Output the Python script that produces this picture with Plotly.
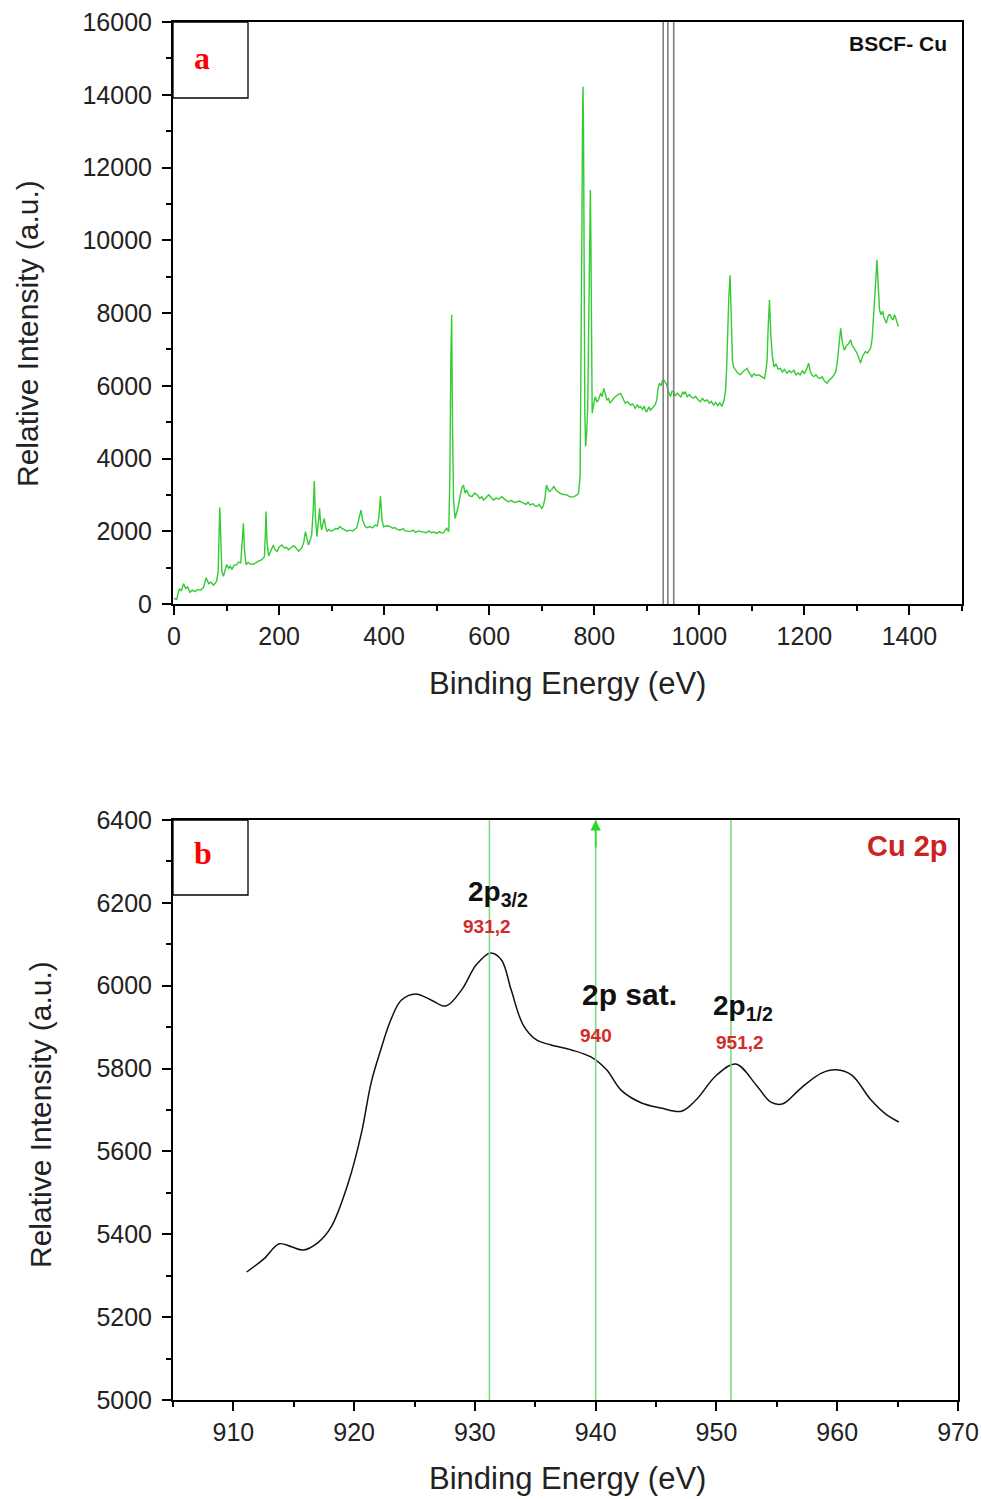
import plotly.graph_objects as go

# ---- Survey spectrum (panel a) ----
survey_ev = [0, 5, 10, 14, 18, 22, 26, 30, 35, 40, 45, 50, 56, 61, 66, 70, 75, 81, 84, 87, 89, 91, 94, 97,
             100, 104, 107, 110, 114, 119, 123, 127, 129, 132, 134, 137, 141, 145, 151, 156, 161, 167, 172,
             174, 175, 177, 180, 184, 189, 192, 196, 200, 205, 210, 214, 218, 223, 227, 230, 234, 237, 243,
             247, 250, 253, 256, 259, 262, 265, 267, 269, 272, 275, 277, 279, 281, 284, 286, 288, 291, 295,
             299, 304, 308, 312, 316, 320, 325, 330, 335, 340, 345, 348, 352, 356, 359, 364, 368, 373, 378,
             383, 387, 390, 393, 396, 399, 404, 411, 416, 420, 425, 430, 436, 440, 445, 450, 455, 460, 465,
             470, 475, 480, 485, 490, 495, 500, 505, 510, 513, 516, 519, 523, 525, 527, 528.5, 530, 532, 535,
             538, 541, 545, 548, 551, 554, 557, 562, 567, 572, 577, 582, 586, 589, 594, 599, 604, 608, 613,
             618, 624, 630, 637, 642, 648, 653, 658, 665, 670, 674, 678, 683, 687, 691, 695, 700, 703, 706,
             709, 712, 715, 719, 723, 728, 735, 741, 748, 754, 761, 765, 770, 773, 775, 776.5, 777.5, 778.5,
             779.5, 780.5, 782, 783.5, 785.5, 787.5, 789.5, 791.5, 792.5, 793.5, 794.5, 796, 799, 802, 805,
             808, 812, 815, 818, 821, 824, 827, 830, 834, 837, 840, 845, 850, 853, 856, 859, 863, 866, 869,
             873, 876, 878, 882, 885, 888, 892, 895, 898, 900, 904, 907, 910, 913, 916, 919, 921, 924, 927,
             930, 932, 935, 938, 941, 943, 945, 948, 951, 954, 958, 961, 965, 968, 971, 973, 977, 981, 985,
             989, 993, 997, 1002, 1006, 1010, 1015, 1019, 1023, 1027, 1031, 1035, 1039, 1043, 1047, 1050,
             1052, 1054, 1056, 1058.5, 1061, 1063, 1065, 1069, 1073, 1078, 1082, 1086, 1091, 1094, 1097,
             1100, 1104, 1108, 1113, 1117, 1121, 1124, 1127, 1129, 1131, 1133.5, 1136, 1139, 1142, 1146,
             1150, 1154, 1158, 1162, 1167, 1171, 1175, 1180, 1184, 1188, 1192, 1196, 1200, 1204, 1208, 1211,
             1214, 1218, 1222, 1226, 1230, 1234, 1238, 1243, 1247, 1251, 1256, 1260, 1263, 1266, 1269, 1272,
             1276, 1280, 1284, 1288, 1291, 1294, 1297, 1300, 1304, 1307, 1310, 1313, 1316, 1320, 1323, 1326,
             1329, 1332, 1335, 1338, 1340, 1343, 1346, 1349, 1351, 1354, 1356, 1359, 1361, 1363, 1366, 1369,
             1371, 1373, 1376, 1378, 1380]
survey_counts = [150, 130, 420, 360, 560, 430, 470, 320, 380, 340, 400, 380, 450, 720, 560, 600, 520, 620, 900,
                 2650, 1800, 900, 760, 950, 1080, 980, 1050, 940, 1060, 1080, 1150, 1130, 1600, 2220, 1500,
                 1080, 1150, 1100, 1090, 1140, 1180, 1220, 1300, 2000, 2540, 1700, 1320, 1450, 1620, 1500,
                 1440, 1560, 1620, 1540, 1560, 1490, 1540, 1600, 1580, 1520, 1450, 1540, 1700, 1990, 1750,
                 1620, 1750, 1900, 2600, 3380, 2400, 1850, 2300, 2630, 2200, 2040, 2250, 2350, 2150, 1990,
                 2050, 2000, 2040, 2080, 2060, 2130, 2070, 2030, 2000, 2030, 2010, 2060, 2100, 2350, 2580,
                 2300, 2130, 2100, 2130, 2090, 2170, 2150, 2400, 2970, 2300, 2120, 2150, 2130, 2080, 2100,
                 2050, 2030, 2070, 2010, 2000, 1990, 2030, 1970, 2010, 1990, 1990, 1960, 2010, 1960, 1980,
                 1940, 1990, 1950, 1960, 2020, 2080, 1990, 3500, 6800, 7950, 5000, 2900, 2350, 2500, 2680,
                 3000, 3200, 3270, 3050, 3130, 2980, 2950, 3050, 3000, 2900, 2950, 2860, 2930, 3000, 2920,
                 2860, 2910, 2880, 2950, 2870, 2810, 2850, 2790, 2810, 2830, 2770, 2740, 2800, 2720, 2760,
                 2700, 2680, 2740, 2630, 2700, 2900, 3270, 3150, 3090, 3150, 3230, 3120, 3040, 3010, 3000,
                 2940, 2950, 2980, 3040, 3500, 6500, 10500, 13100, 14220, 13100, 9000, 5200, 4330, 4700,
                 5400, 8000, 10560, 11380, 10000, 7000, 5250, 5500, 5700, 5550, 5610, 5800, 5700, 5930, 5750,
                 5610, 5650, 5520, 5600, 5650, 5700, 5750, 5790, 5700, 5620, 5520, 5560, 5500, 5470, 5500,
                 5420, 5380, 5480, 5400, 5430, 5350, 5440, 5300, 5290, 5420, 5330, 5380, 5430, 5480, 5610,
                 5900, 6070, 6000, 6150, 6160, 6100, 6020, 5850, 5780, 5700, 5850, 5840, 5720, 5800, 5750,
                 5680, 5820, 5780, 5840, 5700, 5760, 5690, 5660, 5710, 5620, 5560, 5650, 5580, 5610, 5520,
                 5570, 5470, 5540, 5450, 5530, 5430, 5600, 5880, 6500, 7620, 8400, 9040, 7600, 6700, 6520,
                 6430, 6350, 6300, 6380, 6420, 6480, 6380, 6320, 6250, 6330, 6280, 6300, 6260, 6240, 6200,
                 6450, 6710, 7600, 8360, 7400, 6800, 6520, 6600, 6460, 6480, 6380, 6450, 6340, 6420, 6360,
                 6430, 6300, 6350, 6300, 6420, 6330, 6450, 6620, 6400, 6300, 6250, 6300, 6220, 6200, 6250,
                 6130, 6070, 6150, 6200, 6290, 6400, 6700, 7100, 7580, 7200, 6980, 7100, 7150, 7260, 7100,
                 7050, 6980, 6900, 6750, 6620, 6800, 6880, 6940, 6900, 6980, 7030, 7300, 7900, 8700, 9460,
                 8800, 8080, 7950, 8050, 7900, 7800, 7720, 7900, 7950, 7950, 7850, 7810, 7950, 7900, 7700,
                 7660, 7650]

# ---- Cu 2p high-resolution spectrum (panel b) ----
cu_ev = [911.1, 912.5, 913.8, 914.8, 915.8, 917.0, 918.1, 919.5, 920.6, 921.4, 922.2, 923.0, 923.9, 925.1,
         926.4, 927.6, 928.9, 930.1, 931.3, 932.2, 933.0, 934.0, 935.1, 936.3, 938.0, 939.6, 940.9, 942.1,
         943.8, 945.4, 947.1, 948.3, 950.0, 951.6, 953.3, 954.5, 955.5, 957.0, 958.7, 959.9, 961.2, 962.8,
         964.1, 965.1]
cu_counts = [5309, 5340, 5377, 5370, 5362, 5380, 5418, 5523, 5644, 5765, 5845, 5915, 5965, 5980,
             5965, 5951, 5990, 6050, 6079, 6062, 5990, 5905, 5869, 5857, 5845, 5828, 5797, 5748,
             5717, 5705, 5697, 5724, 5784, 5811, 5760, 5719, 5715, 5753, 5789, 5797, 5784, 5724,
             5688, 5671]

# Peak positions (eV) and their labels
peak_ev = [931.2, 940.0, 951.2]
peak_value_labels = ["931,2", "940", "951,2"]

W, H = 982, 1499
FONT = "Liberation Sans, Arial, sans-serif"
SERIF = "Liberation Serif, Times New Roman, serif"


def px(x):
    return x / W


def py(y):
    return 1 - y / H


fig = go.Figure()

fig.add_trace(go.Scatter(x=survey_ev, y=survey_counts, mode="lines",
                         line=dict(color="#33cc33", width=1.4),
                         xaxis="x", yaxis="y", showlegend=False))
fig.add_trace(go.Scatter(x=cu_ev, y=cu_counts, mode="lines", line_shape="spline",
                         line=dict(color="#111111", width=1.5),
                         xaxis="x2", yaxis="y2", showlegend=False))

axis_common = dict(showline=True, linecolor="black", linewidth=2, mirror=True,
                   ticks="outside", ticklen=9, tickwidth=2, tickcolor="black",
                   showgrid=False, zeroline=False, automargin=False, tickformat="d",
                   tickfont=dict(family=FONT, size=25, color="#222"))

fig.update_layout(
    width=W, height=H, margin=dict(l=0, r=0, t=0, b=0, pad=0), autosize=False,
    paper_bgcolor="white", plot_bgcolor="white",
    xaxis=dict(domain=[px(173), px(962)], range=[-2, 1500], anchor="y",
               tickvals=[0, 200, 400, 600, 800, 1000, 1200, 1400],
               minor=dict(dtick=100, tick0=0, ticks="outside", ticklen=5, tickwidth=2, tickcolor="black"),
               **axis_common),
    yaxis=dict(domain=[py(604), py(22)], range=[0, 16000], anchor="x", ticklabelstandoff=5,
               tickvals=[0, 2000, 4000, 6000, 8000, 10000, 12000, 14000, 16000],
               minor=dict(dtick=1000, tick0=0, ticks="outside", ticklen=5, tickwidth=2, tickcolor="black"),
               **axis_common),
    xaxis2=dict(domain=[px(173), px(958)], range=[905, 970], anchor="y2",
                tickvals=[910, 920, 930, 940, 950, 960, 970],
                minor=dict(dtick=5, tick0=905, ticks="outside", ticklen=5, tickwidth=2, tickcolor="black"),
                **axis_common),
    yaxis2=dict(domain=[py(1400), py(820)], range=[5000, 6400], anchor="x2", ticklabelstandoff=5,
                tickvals=[5000, 5200, 5400, 5600, 5800, 6000, 6200, 6400],
                minor=dict(dtick=100, tick0=5000, ticks="outside", ticklen=5, tickwidth=2, tickcolor="black"),
                **axis_common),
)

shapes = []
# Reference markers in the survey panel
for e in peak_ev:
    shapes.append(dict(type="line", xref="x", yref="y domain", x0=e, x1=e, y0=0, y1=1,
                       line=dict(color="#808080", width=1.6)))
# Peak markers in the Cu 2p panel
for e in peak_ev:
    shapes.append(dict(type="line", xref="x2", yref="y2 domain", x0=e, x1=e, y0=0, y1=1,
                       line=dict(color="#7fdc7f", width=1.6)))
# Panel letter boxes
shapes.append(dict(type="rect", xref="paper", yref="paper", x0=px(173), x1=px(248), y0=py(98), y1=py(22),
                   line=dict(color="black", width=1.3)))
shapes.append(dict(type="rect", xref="paper", yref="paper", x0=px(173), x1=px(248), y0=py(895), y1=py(820),
                   line=dict(color="black", width=1.3)))
fig.update_layout(shapes=shapes)

ann = []
# Panel letters
ann.append(dict(text="<b>a</b>", x=px(202), y=py(58), xref="paper", yref="paper", showarrow=False,
                font=dict(family=SERIF, size=32, color="#ff0000"), xanchor="center", yanchor="middle"))
ann.append(dict(text="<b>b</b>", x=px(203), y=py(853), xref="paper", yref="paper", showarrow=False,
                font=dict(family=SERIF, size=32, color="#ff0000"), xanchor="center", yanchor="middle"))
# Panel titles
ann.append(dict(text="<b>BSCF- Cu</b>", x=px(949), y=py(43), xref="paper", yref="paper", showarrow=False,
                font=dict(family=FONT, size=21, color="#111"), xanchor="right", yanchor="middle"))
ann.append(dict(text="<b>Cu 2p</b>", x=px(950), y=py(846), xref="paper", yref="paper", showarrow=False,
                font=dict(family=FONT, size=29, color="#cc2222"), xanchor="right", yanchor="middle"))
# Axis titles
for yy in (683, 1478):
    ann.append(dict(text="Binding Energy (eV)", x=px(567), y=py(yy), xref="paper", yref="paper",
                    showarrow=False, font=dict(family=FONT, size=31, color="#222"),
                    xanchor="center", yanchor="middle"))
ann.append(dict(text="Relative Intensity (a.u.)", x=px(27), y=py(334), xref="paper", yref="paper",
                showarrow=False, textangle=-90, font=dict(family=FONT, size=30, color="#222"),
                xanchor="center", yanchor="middle"))
ann.append(dict(text="Relative Intensity (a.u.)", x=px(40), y=py(1115), xref="paper", yref="paper",
                showarrow=False, textangle=-90, font=dict(family=FONT, size=30, color="#222"),
                xanchor="center", yanchor="middle"))
# Peak names
ann.append(dict(text="<b>2p<sub>3/2</sub></b>", x=929.3, y=6222, xref="x2", yref="y2", showarrow=False,
                font=dict(family=FONT, size=28, color="#111"), xanchor="left", yanchor="middle"))
ann.append(dict(text="<b>2p sat.</b>", x=938.7, y=5978, xref="x2", yref="y2", showarrow=False,
                font=dict(family=FONT, size=30, color="#111"), xanchor="left", yanchor="middle"))
ann.append(dict(text="<b>2p<sub>1/2</sub></b>", x=949.55, y=5948, xref="x2", yref="y2", showarrow=False,
                font=dict(family=FONT, size=28, color="#111"), xanchor="left", yanchor="middle"))
# Peak position labels
label_y = [6144, 5881, 5864]
label_x = [931.0, 940.0, 951.95]
for lx, ly, t in zip(label_x, label_y, peak_value_labels):
    ann.append(dict(text="<b>" + t + "</b>", x=lx, y=ly, xref="x2", yref="y2", showarrow=False,
                    font=dict(family=FONT, size=19, color="#d42a2a"), xanchor="center", yanchor="middle"))
# Arrow tip on the satellite marker
ann.append(dict(text="", x=940, y=6400, ax=940, ay=6330, xref="x2", yref="y2", axref="x2", ayref="y2",
                showarrow=True, arrowhead=2, arrowsize=1.3, arrowwidth=1.6, arrowcolor="#22dd22"))
fig.update_layout(annotations=ann)

fig.write_html("out.html")
